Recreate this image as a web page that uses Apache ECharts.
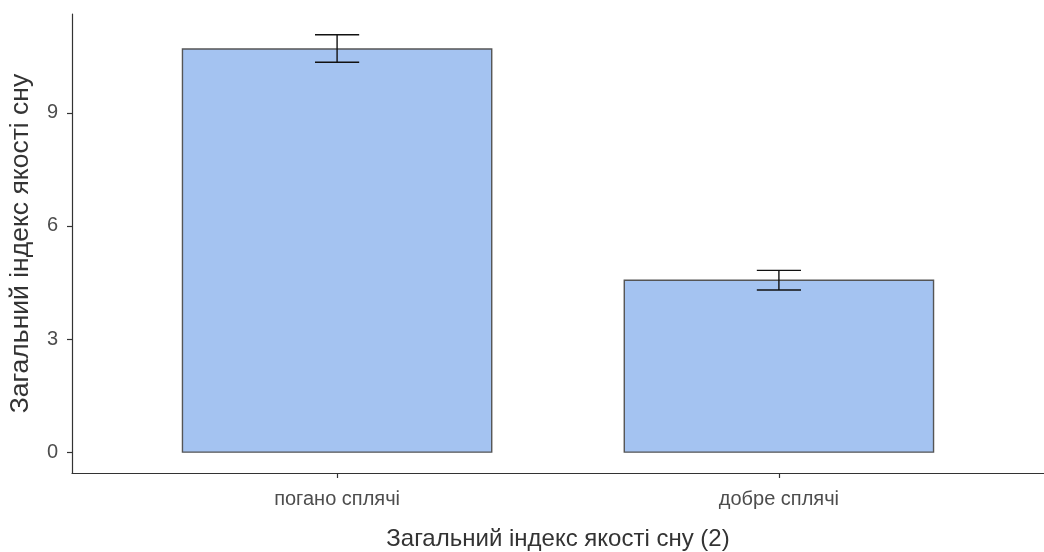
<!DOCTYPE html>
<html><head><meta charset="utf-8">
<script src="https://cdn.jsdelivr.net/npm/echarts@6/dist/echarts.min.js"></script>
<style>html,body{margin:0;padding:0;background:#fff}#c{width:1044px;height:552px}</style>
</head><body><div id="c"></div>
<script>
const categories = ['погано сплячі', 'добре сплячі'];
const means = [10.69, 4.56];
const errLow = [10.34, 4.30];
const errHigh = [11.07, 4.82];
const yTicks = [0, 3, 6, 9];
const xTitle = 'Загальний індекс якості сну (2)';
const yTitle = 'Загальний індекс якості сну';

const barData = categories.map((c, i) => [i + 1, means[i]]);
const errData = categories.map((c, i) => [i + 1, errLow[i], errHigh[i]]);
const font = '"Liberation Sans", Arial, sans-serif';

const chart = echarts.init(document.getElementById('c'));
chart.setOption({
  animation: false,
  grid: {left: 72, right: 0, top: 14, bottom: 79, containLabel: false, outerBoundsMode: 'none'},
  xAxis: {
    type: 'value', min: 0.4, max: 2.6,
    splitLine: {show: false},
    axisLine: {show: true, onZero: false, lineStyle: {color: '#333', width: 1.2}},
    axisTick: {show: true, customValues: [1, 2], length: 5, lineStyle: {color: '#333', width: 1.2}},
    axisLabel: {customValues: [1, 2], formatter: v => categories[Math.round(v) - 1] || '',
      color: '#4d4d4d', fontSize: 20, fontFamily: font, margin: 16},
    name: xTitle, nameLocation: 'middle', nameGap: 54,
    nameTextStyle: {fontSize: 24, color: '#333', fontFamily: font}
  },
  yAxis: {
    type: 'value', min: -0.553, max: 11.62,
    splitLine: {show: false},
    axisLine: {show: true, onZero: false, lineStyle: {color: '#333', width: 1.2}},
    axisTick: {show: true, customValues: yTicks, length: 5, lineStyle: {color: '#333', width: 1.2}},
    axisLabel: {customValues: yTicks, color: '#4d4d4d', fontSize: 20, fontFamily: font, margin: 14},
    name: yTitle, nameLocation: 'middle', nameGap: 38,
    nameTextStyle: {fontSize: 26.5, color: '#333', fontFamily: font}
  },
  series: [
    {
      type: 'custom', data: barData,
      renderItem: (params, api) => {
        const x = api.value(0), y = api.value(1);
        const p1 = api.coord([x - 0.35, y]);
        const p2 = api.coord([x + 0.35, 0]);
        return {type: 'rect', shape: {x: p1[0], y: p1[1], width: p2[0] - p1[0], height: p2[1] - p1[1]},
          style: {fill: '#a4c3f1', stroke: '#555', lineWidth: 1.4}};
      }
    },
    {
      type: 'custom', data: errData, z: 3,
      renderItem: (params, api) => {
        const x = api.value(0), lo = api.value(1), hi = api.value(2);
        const a = api.coord([x - 0.05, hi]), b = api.coord([x + 0.05, hi]);
        const c = api.coord([x - 0.05, lo]), d = api.coord([x + 0.05, lo]);
        const m1 = api.coord([x, hi]), m2 = api.coord([x, lo]);
        const st = {stroke: '#111', lineWidth: 1.4};
        return {type: 'group', children: [
          {type: 'line', shape: {x1: a[0], y1: a[1], x2: b[0], y2: b[1]}, style: st},
          {type: 'line', shape: {x1: c[0], y1: c[1], x2: d[0], y2: d[1]}, style: st},
          {type: 'line', shape: {x1: m1[0], y1: m1[1], x2: m2[0], y2: m2[1]}, style: st}
        ]};
      }
    }
  ]
});
</script></body></html>
